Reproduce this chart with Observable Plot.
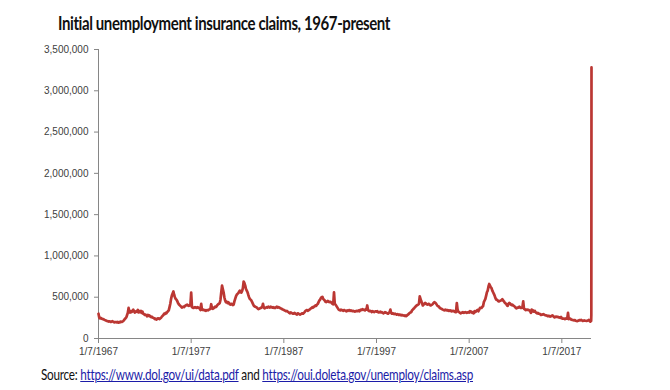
<!DOCTYPE html>
<html>
<head>
<meta charset="utf-8">
<script src="https://cdn.jsdelivr.net/npm/d3@7"></script>
<script src="https://cdn.jsdelivr.net/npm/@observablehq/plot@0.6"></script>
<style>
  html, body { margin: 0; padding: 0; background: #fff; }
  #wrap { position: relative; width: 670px; height: 390px; overflow: hidden; }
  #title { position: absolute; left: 58px; top: 13px; font-family: Lato, "Open Sans", sans-serif; font-weight: 700; font-size: 19px; line-height: 19px; letter-spacing: -0.5px; color: #111; white-space: nowrap; transform-origin: 0 0; }
  #chart { position: absolute; left: 0; top: 40px; }
  #source { position: absolute; left: 41px; top: 367px; font-family: Lato, "Open Sans", sans-serif; font-size: 15px; line-height: 15px; letter-spacing: -0.3px; color: #111; white-space: nowrap; transform-origin: 0 0; }
  #source a { color: #1c1ca8; text-decoration: underline; }
</style>
</head>
<body>
<div id="wrap">
  <div id="title">Initial unemployment insurance claims, 1967-present</div>
  <div id="chart"></div>
  <div id="source">Source: <a href="https://www.dol.gov/ui/data.pdf">https://www.dol.gov/ui/data.pdf</a> and <a href="https://oui.doleta.gov/unemploy/claims.asp">https://oui.doleta.gov/unemploy/claims.asp</a></div>
</div>
<script>
// Initial claims, thousands, monthly readings (Jan..Dec)
const claims1967to1969 = [
  300, 250, 245, 250, 240, 238, 235, 230, 225, 222, 215, 212,
  210, 205, 208, 205, 200, 205, 210, 202, 198, 196, 200, 198,
  195, 200, 192, 198, 196, 205, 200, 205, 212, 220, 235, 245
];
const claims1970s = [
  255, 285, 310, 370, 325, 315, 330, 320, 335, 350, 330, 315,
  320, 330, 325, 345, 315, 330, 320, 335, 310, 325, 300, 295,
  285, 290, 280, 270, 285, 275, 280, 265, 260, 265, 255, 250,
  245, 235, 240, 230, 235, 245, 240, 235, 245, 250, 265, 275,
  285, 300, 295, 310, 305, 320, 330, 340, 380, 420, 480, 520,
  545, 570, 530, 500, 480, 470, 455, 430, 415, 405, 395, 385,
  375, 380, 385, 380, 395, 400, 405, 410, 400, 395, 400, 405,
  555, 380, 375, 370, 375, 380, 375, 370, 380, 375, 370, 365,
  345, 420, 350, 345, 350, 340, 345, 335, 340, 345, 340, 350,
  355, 360, 415, 370, 360, 365, 375, 385, 380, 390, 405, 415
];
const claims1980s = [
  420, 430, 470, 560, 640, 600, 560, 500, 460, 440, 445, 430,
  440, 430, 415, 410, 420, 415, 405, 410, 450, 480, 510, 530,
  540, 550, 565, 580, 560, 555, 575, 610, 690, 670, 640, 600,
  580, 560, 530, 500, 480, 470, 460, 440, 420, 400, 390, 385,
  380, 375, 365, 355, 360, 365, 370, 375, 380, 420, 375, 365,
  370, 375, 380, 375, 385, 380, 375, 385, 380, 375, 380, 370,
  375, 370, 380, 385, 375, 380, 375, 370, 365, 360, 355, 350,
  345, 340, 335, 330, 335, 325, 320, 310, 305, 315, 310, 305,
  300, 305, 310, 300, 295, 290, 305, 300, 295, 290, 295, 300,
  305, 300, 310, 320, 335, 340, 345, 335, 340, 350, 355, 365
];
const claims1990s = [
  370, 380, 375, 385, 390, 400, 395, 410, 420, 440, 460, 470,
  490, 500, 505, 480, 470, 460, 445, 440, 450, 455, 445, 440,
  445, 440, 430, 420, 415, 560, 420, 410, 395, 380, 365, 350,
  345, 340, 350, 345, 340, 335, 345, 340, 335, 330, 340, 335,
  340, 345, 335, 340, 335, 330, 335, 330, 325, 330, 335, 330,
  335, 340, 330, 345, 350, 345, 355, 350, 345, 340, 355, 350,
  400, 345, 335, 330, 335, 330, 320, 330, 325, 320, 325, 330,
  325, 330, 320, 315, 320, 325, 315, 320, 310, 305, 310, 320,
  315, 310, 305, 300, 310, 320, 350, 310, 300, 305, 300, 295,
  300, 295, 290, 295, 290, 285, 290, 285, 280, 285, 280, 278
];
const claims2000s = [
  275, 280, 270, 275, 285, 290, 300, 310, 315, 320, 340, 350,
  360, 370, 380, 390, 400, 405, 410, 420, 510, 480, 450, 430,
  400, 410, 420, 430, 425, 415, 410, 415, 420, 410, 400, 405,
  410, 420, 430, 440, 435, 425, 410, 395, 390, 385, 370, 365,
  360, 355, 350, 345, 340, 350, 345, 340, 345, 335, 340, 335,
  340, 330, 335, 330, 335, 325, 320, 320, 430, 350, 325, 320,
  310, 305, 310, 315, 320, 310, 315, 320, 315, 310, 315, 320,
  315, 330, 320, 325, 310, 315, 305, 330, 320, 330, 340, 345,
  330, 350, 370, 370, 370, 385, 390, 440, 460, 480, 520, 560,
  580, 630, 660, 640, 620, 610, 580, 560, 540, 520, 490, 470
];
const claims2010s = [
  470, 460, 450, 450, 455, 460, 465, 475, 460, 450, 435, 425,
  420, 400, 395, 420, 430, 425, 410, 405, 410, 400, 395, 385,
  375, 365, 370, 375, 375, 385, 375, 370, 370, 380, 450, 360,
  355, 345, 350, 345, 350, 345, 340, 330, 310, 350, 330, 340,
  325, 335, 320, 310, 305, 310, 300, 300, 295, 285, 290, 290,
  295, 290, 285, 280, 280, 275, 270, 275, 270, 265, 270, 275,
  280, 270, 260, 255, 265, 265, 260, 262, 255, 255, 250, 260,
  245, 240, 240, 240, 235, 242, 245, 240, 310, 235, 240, 240,
  230, 225, 225, 222, 220, 222, 215, 212, 210, 215, 220, 222,
  220, 225, 220, 212, 215, 220, 215, 215, 212, 215, 220, 225
];
// 2020: weekly readings
const weeks2020 = ["2020-01-04","2020-01-11","2020-01-18","2020-01-25","2020-02-01","2020-02-08","2020-02-15","2020-02-22","2020-02-29","2020-03-07","2020-03-14","2020-03-21"];
const claims2020 = [220, 212, 208, 214, 203, 204, 211, 220, 217, 211, 282, 3283];

const yTicks = [0, 500000, 1000000, 1500000, 2000000, 2500000, 3000000, 3500000];
const xTickLabels = ["1/7/1967", "1/7/1977", "1/7/1987", "1/7/1997", "1/7/2007", "1/7/2017"];

// build table
const data = [];
const monthly = [].concat(claims1967to1969, claims1970s, claims1980s, claims1990s, claims2000s, claims2010s);
monthly.forEach((v, i) => {
  const y = 1967 + Math.floor(i / 12), m = i % 12;
  data.push({date: new Date(Date.UTC(y, m, 7)), claims: v * 1000});
});
weeks2020.forEach((d, i) => data.push({date: new Date(d + "T00:00:00Z"), claims: claims2020[i] * 1000}));

const parseLabel = s => { const [m, d, y] = s.split("/").map(Number); return new Date(Date.UTC(y, m - 1, d)); };
const xTicks = xTickLabels.map(parseLabel);
const labelOf = new Map(xTicks.map((d, i) => [+d, xTickLabels[i]]));
const start = data[0].date, end = data[data.length - 1].date;
const axisColor = "#868686";

const chart = Plot.plot({
  width: 670,
  height: 320,
  marginLeft: 98,
  marginRight: 79,
  marginTop: 9,
  marginBottom: 22,
  style: {fontFamily: "'Liberation Sans', Arial, sans-serif", fontSize: "10px", color: "#404040", background: "#fff"},
  x: {type: "utc", domain: [start, end]},
  y: {domain: [0, 3500000]},
  marks: [
    Plot.axisY({ticks: yTicks, tickSize: 4, tickPadding: 6, tickFormat: d3.format(","), stroke: axisColor, label: null}),
    Plot.axisX({ticks: xTicks, tickSize: 5, tickPadding: 4, tickFormat: d => labelOf.get(+d), stroke: axisColor, label: null}),
    Plot.ruleX([start], {stroke: axisColor}),
    Plot.ruleY([0], {stroke: axisColor}),
    Plot.line(data, {x: "date", y: "claims", stroke: "#bb3733", strokeWidth: 2.7, strokeLinejoin: "round"})
  ]
});
document.getElementById("chart").appendChild(chart);

function fit(id, w) {
  const el = document.getElementById(id);
  const cur = el.getBoundingClientRect().width;
  el.style.transform = `scaleX(${w / cur})`;
}
fit("title", 332);
fit("source", 432);
</script>
</body>
</html>
